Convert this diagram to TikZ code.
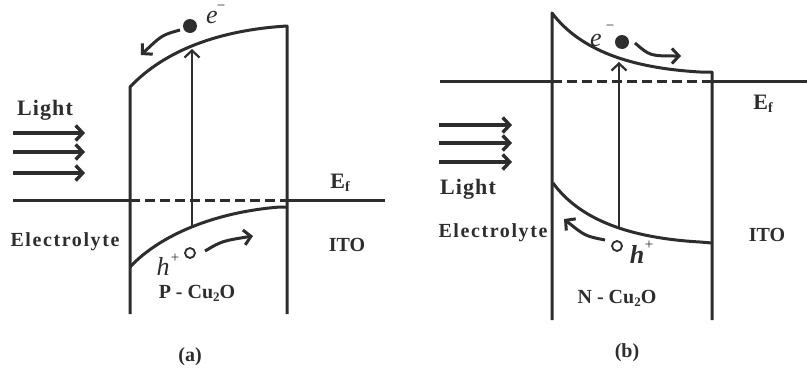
\documentclass[tikz,border=0pt]{standalone}
\usepackage{fontspec}
\setmainfont{Liberation Serif}
\usetikzlibrary{arrows.meta}
\definecolor{ink}{RGB}{45,45,45}
\begin{document}
\begin{tikzpicture}[x=1pt,y=-1pt,
  band/.style={draw=ink,line width=3pt,line join=round},
  thinline/.style={draw=ink,line width=2.2pt},
  dashband/.style={draw=ink,line width=3pt,dash pattern=on 10pt off 5pt},
  chev/.style={-{Straight Barb[length=7pt,width=15pt]}},
  lightarr/.style={draw=ink,line width=3.4pt,-{Straight Barb[length=7pt,width=15pt]}},
  carrier/.style={draw=ink,line width=3pt,-{Straight Barb[length=7pt,width=15pt]}},
  lbl/.style={text=ink,inner sep=0pt,font=\fontsize{20}{22}\selectfont\bfseries\addfontfeature{LetterSpace=8}},
  biglbl/.style={text=ink,inner sep=0pt,font=\fontsize{22}{24}\selectfont\bfseries\addfontfeature{LetterSpace=5}},
  plain/.style={text=ink,inner sep=0pt,font=\fontsize{20}{22}\selectfont\bfseries},
  captext/.style={text=ink,inner sep=0pt,font=\fontsize{20}{22}\selectfont\bfseries},
  elec/.style={fill=ink,circle,inner sep=0pt,minimum size=14pt},
  hole/.style={draw=ink,line width=1.8pt,circle,inner sep=0pt,minimum size=10pt},
  ital/.style={text=ink,inner sep=0pt,font=\fontsize{26}{28}\selectfont\itshape},
  supsign/.style={text=ink,inner sep=0pt,font=\fontsize{15}{16}\selectfont}]
\useasboundingbox (0,0) rectangle (807,370);
\fill[white] (0,0) rectangle (807,370);

% ---------------- panel (a) ----------------
\coordinate (aLT) at (130,87);
\coordinate (aLB) at (130,314);
\coordinate (aRT) at (287,26);
\coordinate (aRB) at (287,314);
\coordinate (aVL) at (130,267);
\coordinate (aVR) at (287,207);
\coordinate (aF0) at (13,200);
\coordinate (aF1) at (130,200);
\coordinate (aF2) at (287,200);
\coordinate (aF3) at (385,200);
\coordinate (aUp0) at (192,227);
\coordinate (aUp1) at (192,49);

\draw[band] (aLB) -- (aLT) .. controls (165,50) and (220,30) .. (aRT) -- (aRB);
\draw[band] (aVL) .. controls (160,235) and (215,212) .. (280,207) -- (aVR);
\draw[band] (aF0) -- (aF1);
\draw[dashband] (aF1) -- (aF2);
\draw[band] (aF2) -- (aF3);
\draw[thinline,chev] (aUp0) -- (aUp1);

\node[elec] (ae) at (190,26) {};
\coordinate (aeA) at (180,30);
\coordinate (aeB) at (141,55);
\draw[carrier] (aeA) .. controls (162,35) .. (aeB);
\node[ital] (aet) at (212,17) {e};
\node[supsign] (aem) at (221,8) {−};

\node[hole] (ah) at (190,253) {};
\coordinate (ahA) at (205,251);
\coordinate (ahB) at (253,236);
\draw[carrier] (ahA) .. controls (222,241) .. (ahB);
\node[ital] (aht) at (163,266) {h};
\node[supsign] (ahp) at (175,258) {+};

\foreach \yy/\nm in {133/a1,152/a2,173/a3}{
  \coordinate (\nm s) at (13,\yy);
  \coordinate (\nm e) at (85,\yy);
  \draw[lightarr] (\nm s) -- (\nm e);
}
\node[biglbl] (aLight) at (45,110) {Light};
\node[lbl] (aElec) at (65,242) {Electrolyte};
\node[plain] (aITO) at (347,245) {ITO};
\node[plain,font=\fontsize{22}{24}\selectfont\bfseries] (aEf) at (340,183) {E\raisebox{-0.3ex}{\fontsize{14}{14}\selectfont f}};
\node[plain] (aP) at (197,293) {P - Cu\raisebox{-0.35ex}{\fontsize{13}{13}\selectfont 2}O};
\node[captext] (acap) at (190,357) {(a)};

% ---------------- panel (b) ----------------
\coordinate (bLT) at (552,13);
\coordinate (bLB) at (552,320);
\coordinate (bRT) at (712,72);
\coordinate (bRB) at (712,320);
\coordinate (bVL) at (553,183);
\coordinate (bVR) at (712,243);
\coordinate (bF0) at (440,81);
\coordinate (bF1) at (552,81);
\coordinate (bF2) at (712,81);
\coordinate (bF3) at (807,81);
\coordinate (bUp0) at (619,229);
\coordinate (bUp1) at (619,62);

\draw[band] (bLB) -- (bLT) .. controls (580,50) and (630,68) .. (700,72) -- (bRT) -- (bRB);
\draw[band] (bVL) .. controls (580,220) and (630,238) .. (700,242) -- (bVR);
\draw[band] (bF0) -- (bF1);
\draw[dashband] (bF1) -- (bF2);
\draw[band] (bF2) -- (bF3);
\draw[thinline,chev] (bUp0) -- (bUp1);

\node[elec] (be) at (622,42) {};
\coordinate (beA) at (635,43);
\coordinate (beB) at (681,56);
\draw[carrier] (beA) .. controls (650,56) .. (beB);
\node[ital] (bet) at (596,40) {e};
\node[supsign] (bem) at (610,28) {−};

\node[hole] (bh) at (617,246) {};
\coordinate (bhA) at (605,240);
\coordinate (bhB) at (564,219);
\draw[carrier] (bhA) .. controls (585,236) .. (bhB);
\node[ital,font=\fontsize{26}{28}\selectfont\itshape\bfseries] (bht) at (637,254) {h};
\node[supsign] (bhp) at (649,245) {+};

\foreach \yy/\nm in {125/b1,143/b2,162/b3}{
  \coordinate (\nm s) at (439,\yy);
  \coordinate (\nm e) at (512,\yy);
  \draw[lightarr] (\nm s) -- (\nm e);
}
\node[biglbl] (bLight) at (468,189) {Light};
\node[lbl] (bElec) at (493,233) {Electrolyte};
\node[plain] (bITO) at (767,235) {ITO};
\node[plain,font=\fontsize{22}{24}\selectfont\bfseries] (bEf) at (763,104) {E\raisebox{-0.3ex}{\fontsize{14}{14}\selectfont f}};
\node[plain] (bN) at (617,298) {N - Cu\raisebox{-0.35ex}{\fontsize{13}{13}\selectfont 2}O};
\node[captext] (bcap) at (627,353) {(b)};
\end{tikzpicture}
\end{document}
